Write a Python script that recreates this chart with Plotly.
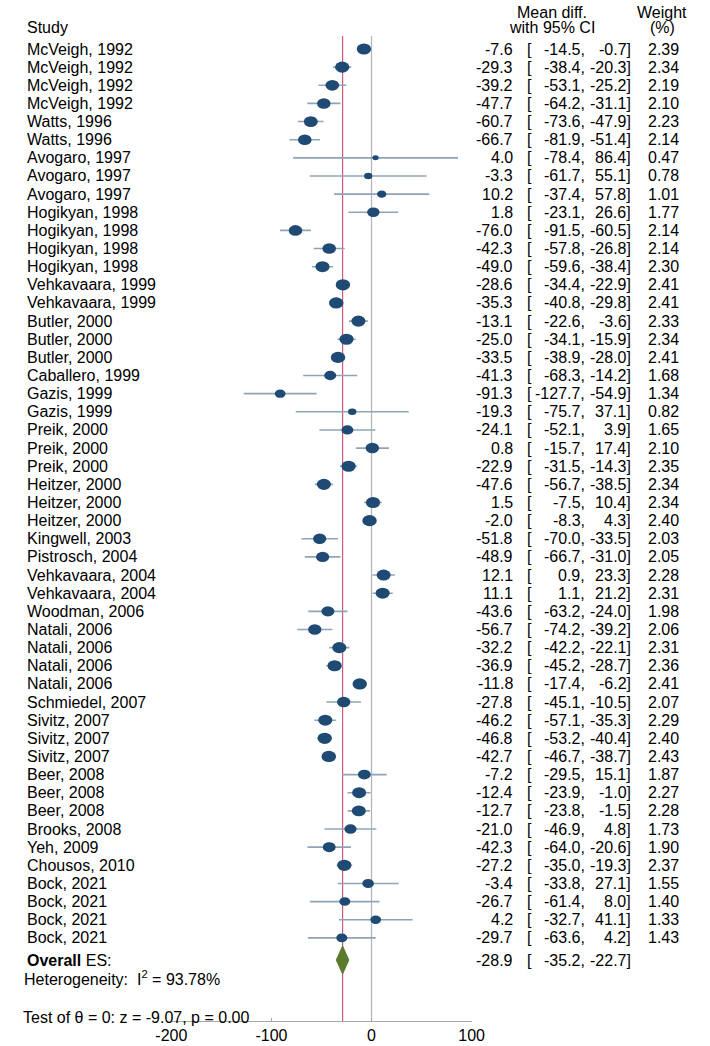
import numpy as np
import plotly.graph_objects as go

studies = [
    "McVeigh, 1992", "McVeigh, 1992", "McVeigh, 1992", "McVeigh, 1992",
    "Watts, 1996", "Watts, 1996",
    "Avogaro, 1997", "Avogaro, 1997", "Avogaro, 1997",
    "Hogikyan, 1998", "Hogikyan, 1998", "Hogikyan, 1998", "Hogikyan, 1998",
    "Vehkavaara, 1999", "Vehkavaara, 1999",
    "Butler, 2000", "Butler, 2000", "Butler, 2000",
    "Caballero, 1999",
    "Gazis, 1999", "Gazis, 1999",
    "Preik, 2000", "Preik, 2000", "Preik, 2000",
    "Heitzer, 2000", "Heitzer, 2000", "Heitzer, 2000",
    "Kingwell, 2003", "Pistrosch, 2004",
    "Vehkavaara, 2004", "Vehkavaara, 2004",
    "Woodman, 2006",
    "Natali, 2006", "Natali, 2006", "Natali, 2006", "Natali, 2006",
    "Schmiedel, 2007",
    "Sivitz, 2007", "Sivitz, 2007", "Sivitz, 2007",
    "Beer, 2008", "Beer, 2008", "Beer, 2008",
    "Brooks, 2008", "Yeh, 2009", "Chousos, 2010",
    "Bock, 2021", "Bock, 2021", "Bock, 2021", "Bock, 2021",
]
means = [-7.6, -29.3, -39.2, -47.7, -60.7, -66.7, 4.0, -3.3, 10.2, 1.8,
         -76.0, -42.3, -49.0, -28.6, -35.3, -13.1, -25.0, -33.5, -41.3, -91.3,
         -19.3, -24.1, 0.8, -22.9, -47.6, 1.5, -2.0, -51.8, -48.9, 12.1,
         11.1, -43.6, -56.7, -32.2, -36.9, -11.8, -27.8, -46.2, -46.8, -42.7,
         -7.2, -12.4, -12.7, -21.0, -42.3, -27.2, -3.4, -26.7, 4.2, -29.7]
lowers = [-14.5, -38.4, -53.1, -64.2, -73.6, -81.9, -78.4, -61.7, -37.4, -23.1,
          -91.5, -57.8, -59.6, -34.4, -40.8, -22.6, -34.1, -38.9, -68.3, -127.7,
          -75.7, -52.1, -15.7, -31.5, -56.7, -7.5, -8.3, -70.0, -66.7, 0.9,
          1.1, -63.2, -74.2, -42.2, -45.2, -17.4, -45.1, -57.1, -53.2, -46.7,
          -29.5, -23.9, -23.8, -46.9, -64.0, -35.0, -33.8, -61.4, -32.7, -63.6]
uppers = [-0.7, -20.3, -25.2, -31.1, -47.9, -51.4, 86.4, 55.1, 57.8, 26.6,
          -60.5, -26.8, -38.4, -22.9, -29.8, -3.6, -15.9, -28.0, -14.2, -54.9,
          37.1, 3.9, 17.4, -14.3, -38.5, 10.4, 4.3, -33.5, -31.0, 23.3,
          21.2, -24.0, -39.2, -22.1, -28.7, -6.2, -10.5, -35.3, -40.4, -38.7,
          15.1, -1.0, -1.5, 4.8, -20.6, -19.3, 27.1, 8.0, 41.1, 4.2]
weights = [2.39, 2.34, 2.19, 2.10, 2.23, 2.14, 0.47, 0.78, 1.01, 1.77,
           2.14, 2.14, 2.30, 2.41, 2.41, 2.33, 2.34, 2.41, 1.68, 1.34,
           0.82, 1.65, 2.10, 2.35, 2.34, 2.34, 2.40, 2.03, 2.05, 2.28,
           2.31, 1.98, 2.06, 2.31, 2.36, 2.41, 2.07, 2.29, 2.40, 2.43,
           1.87, 2.27, 2.28, 1.73, 1.90, 2.37, 1.55, 1.40, 1.33, 1.43]
overall_es = -28.9
overall_lo = -35.2
overall_hi = -22.7
i_squared = 93.78
z_stat = -9.07
p_value = 0.00
x_ticks = [-200, -100, 0, 100]

W, H = 710, 1046
ROW0_PX, ROW_PX = 49.0, 18.14
AXIS_PX = 1021.0
FONT = "Liberation Sans"
FS = 16


def prow(py):
    return 1 + (py - ROW0_PX) / ROW_PX


def px(xp):
    return xp / W


rows = list(range(1, len(studies) + 1))

fig = go.Figure()

# confidence interval lines
ci_x, ci_y = [], []
for r, lo, hi in zip(rows, lowers, uppers):
    ci_x += [lo, hi, None]
    ci_y += [r, r, None]
fig.add_trace(go.Scatter(x=ci_x, y=ci_y, mode="lines",
                         line=dict(color="#8fa4b8", width=1.6),
                         hoverinfo="skip", showlegend=False))

shapes = []
# reference lines
for xv, col in [(0, "#b3b3bb"), (overall_es, "#cc5a7c")]:
    shapes.append(dict(type="line", xref="x", yref="y", x0=xv, x1=xv,
                       y0=prow(36), y1=prow(AXIS_PX),
                       line=dict(color=col, width=1.2), layer="below"))

# weighted ellipse markers
for r, m, w in zip(rows, means, weights):
    s = np.sqrt(w / 2.4)
    hw, hh = 7.2 * s, 0.31 * s
    shapes.append(dict(type="circle", xref="x", yref="y",
                       x0=m - hw, x1=m + hw, y0=r - hh, y1=r + hh,
                       fillcolor="#1e4a74", line=dict(width=0), layer="above"))

# overall diamond
r_ov = prow(960)
dh = 0.77
fig.add_trace(go.Scatter(
    x=[overall_lo, overall_es, overall_hi, overall_es, overall_lo],
    y=[r_ov, r_ov - dh, r_ov, r_ov + dh, r_ov],
    mode="lines", fill="toself", fillcolor="#5a7b2c",
    line=dict(color="#5a7b2c", width=1), hoverinfo="skip", showlegend=False))

ann = []


def add_text(text, xp, y, anchor="left"):
    ann.append(dict(text=text, x=px(xp), xref="paper", y=y, yref="y",
                    xanchor=anchor, yanchor="middle", showarrow=False,
                    font=dict(family=FONT, size=FS, color="black")))


# headers
add_text("Study", 9, prow(27))
add_text("Mean diff.", 559, prow(12), "center")
add_text("with 95% CI", 559, prow(27), "center")
add_text("Weight", 674, prow(12), "center")
add_text("(%)", 674, prow(27), "center")

for r, name, m, lo, hi, w in zip(rows, studies, means, lowers, uppers, weights):
    add_text(name, 9, r)
    add_text(f"{m:.1f}", 520, r, "right")
    add_text("[", 540, r, "right")
    add_text(f"{lo:.1f},", 595, r, "right")
    add_text(f"{hi:.1f}]", 643, r, "right")
    add_text(f"{w:.2f}", 693, r, "right")

add_text("<b>Overall</b> ES:", 9, r_ov)
add_text(f"{overall_es:.1f}", 520, r_ov, "right")
add_text("[", 540, r_ov, "right")
add_text(f"{overall_lo:.1f},", 595, r_ov, "right")
add_text(f"{overall_hi:.1f}]", 643, r_ov, "right")
add_text(f"Heterogeneity:  I<sup>2</sup> = {i_squared:.2f}%", 6, prow(978))
add_text(f"Test of θ = 0: z = {z_stat:.2f}, p = {p_value:.2f}", 5, prow(1017))

fig.update_layout(
    width=W, height=H,
    margin=dict(l=0, r=0, t=0, b=int(H - AXIS_PX)),
    paper_bgcolor="white", plot_bgcolor="white",
    font=dict(family=FONT, size=FS, color="black"),
    shapes=shapes, annotations=ann, showlegend=False,
    xaxis=dict(domain=[162 / W, 475 / W], range=[-200, 100],
               tickvals=x_ticks, ticktext=[str(t) for t in x_ticks],
               showgrid=False, zeroline=False, showline=True,
               linecolor="#a6a6a6", linewidth=1, ticks="inside",
               ticklen=3, tickcolor="#a6a6a6",
               tickfont=dict(family=FONT, size=FS, color="black"),
               fixedrange=True),
    yaxis=dict(range=[prow(AXIS_PX), prow(0)], visible=False,
               showgrid=False, zeroline=False, fixedrange=True),
)

fig.write_html(
    "out.html",
    config={"displayModeBar": False},
    post_script="document.body.style.margin='0';document.body.style.overflow='hidden';",
)
